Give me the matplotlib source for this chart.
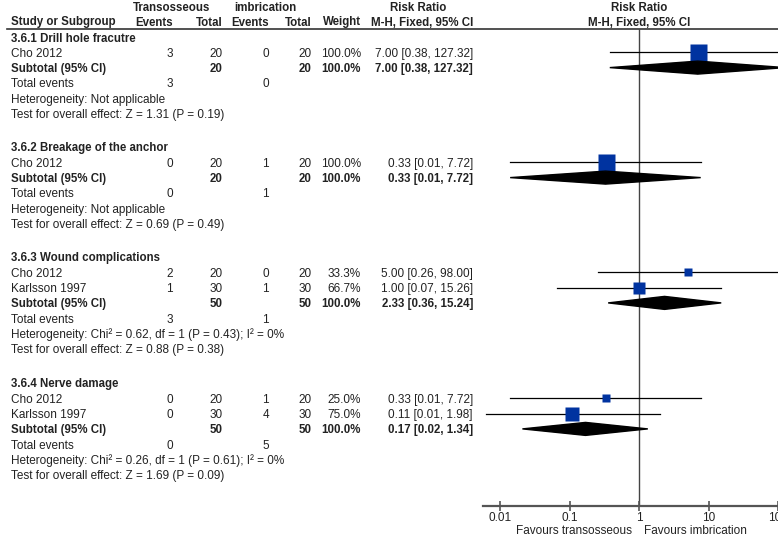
import matplotlib

matplotlib.use("Agg")
import matplotlib.pyplot as plt
from matplotlib.patches import Polygon

plt.rcParams["font.family"] = ["Liberation Sans", "DejaVu Sans"]

# data
group_names = [
    "3.6.1 Drill hole fracutre",
    "3.6.2 Breakage of the anchor",
    "3.6.3 Wound complications",
    "3.6.4 Nerve damage",
]
study_group = [0, 1, 2, 2, 3, 3]
study_names = ["Cho 2012", "Cho 2012", "Cho 2012", "Karlsson 1997", "Cho 2012", "Karlsson 1997"]
trans_events = [3, 0, 2, 1, 0, 0]
trans_total = [20, 20, 20, 30, 20, 30]
imb_events = [0, 1, 0, 1, 1, 4]
imb_total = [20, 20, 20, 30, 20, 30]
weights = [100.0, 100.0, 33.3, 66.7, 25.0, 75.0]
rr = [7.00, 0.33, 5.00, 1.00, 0.33, 0.11]
rr_lo = [0.38, 0.014, 0.26, 0.066, 0.014, 0.0063]
rr_hi = [127.32, 7.72, 98.00, 15.26, 7.72, 1.98]

sub_rr = [7.00, 0.33, 2.33, 0.17]
sub_lo = [0.38, 0.014, 0.36, 0.021]
sub_hi = [127.32, 7.72, 15.24, 1.34]
heterogeneity = [
    "Not applicable",
    "Not applicable",
    "Chi\u00b2 = 0.62, df = 1 (P = 0.43); I\u00b2 = 0%",
    "Chi\u00b2 = 0.26, df = 1 (P = 0.61); I\u00b2 = 0%",
]
overall_effect = [
    "Z = 1.31 (P = 0.19)",
    "Z = 0.69 (P = 0.49)",
    "Z = 0.88 (P = 0.38)",
    "Z = 1.69 (P = 0.09)",
]
axis_ticks = [0.01, 0.1, 1, 10, 100]
axis_labels = ["0.01", "0.1", "1", "10", "100"]
left_label = "Favours transosseous"
right_label = "Favours imbrication"

# layout in pixels
W, H = 778, 539
group_top = [37, 147, 257, 383]
step = 15.3
txt_dy = 1.5
fs = 8.5
fs_bold = 8.3
txt_color = "#222222"
sq_color = "#0033a0"
x_name = 11
x_ev1, x_tot1, x_ev2, x_tot2, x_wt, x_rr = 173, 223, 269, 312, 361, 473
fx_left, fx_right, fx_top, fx_bottom = 483, 778, 28.5, 506
# log10 value at left / right edge of forest axes (decade = 69.5 px, 1 at 639)
dec = 69.5
lg_left = (fx_left - 639) / dec
lg_right = (fx_right - 639) / dec

fig = plt.figure(figsize=(W / 100, H / 100), dpi=100)
ax = fig.add_axes([0, 0, 1, 1])
ax.set_xlim(0, W)
ax.set_ylim(H, 0)
ax.axis("off")

fx = fig.add_axes(
    [fx_left / W, 1 - fx_bottom / H, (fx_right - fx_left) / W, (fx_bottom - fx_top) / H]
)
fx.set_xscale("log")
fx.set_xlim(10**lg_left, 10**lg_right)
fx.set_ylim(fx_bottom, fx_top)
fx.patch.set_alpha(0)
for s in ["top", "left", "right"]:
    fx.spines[s].set_visible(False)
fx.spines["bottom"].set_color("#555555")
fx.spines["bottom"].set_linewidth(1.6)
fx.set_yticks([])
fx.set_xticks(axis_ticks)
fx.set_xticklabels(axis_labels)
fx.minorticks_off()
fx.tick_params(axis="x", direction="inout", length=7, width=1.2, color="#555555",
               labelsize=fs, labelcolor=txt_color, pad=1.0)
fx.axvline(1, color="#444444", lw=1.0, zorder=1)


def put(x, y, s, ha="left", bold=False):
    ax.text(x, y, s, ha=ha, va="center", fontsize=fs_bold if bold else fs,
            color=txt_color, fontweight="bold" if bold else "normal")


# header
put(172, 8, "Transosseous", ha="center", bold=True)
put(265, 8, "imbrication", ha="center", bold=True)
put(418, 8, "Risk Ratio", ha="center", bold=True)
put(639, 8, "Risk Ratio", ha="center", bold=True)
hy = 22.5
put(x_name, hy, "Study or Subgroup", bold=True)
put(x_ev1, hy, "Events", ha="right", bold=True)
put(x_tot1, hy, "Total", ha="right", bold=True)
put(x_ev2, hy, "Events", ha="right", bold=True)
put(x_tot2, hy, "Total", ha="right", bold=True)
put(x_wt, hy, "Weight", ha="right", bold=True)
put(x_rr, hy, "M-H, Fixed, 95% CI", ha="right", bold=True)
put(639, hy, "M-H, Fixed, 95% CI", ha="center", bold=True)
ax.plot([7, W], [28.5, 28.5], color="#333333", lw=1.2)

for g, gname in enumerate(group_names):
    y = group_top[g]
    put(x_name, y + txt_dy, gname, bold=True)
    idx = [i for i, sg in enumerate(study_group) if sg == g]
    for i in idx:
        y += step
        ty = y + txt_dy
        put(x_name, ty, study_names[i])
        put(x_ev1, ty, str(trans_events[i]), ha="right")
        put(x_tot1, ty, str(trans_total[i]), ha="right")
        put(x_ev2, ty, str(imb_events[i]), ha="right")
        put(x_tot2, ty, str(imb_total[i]), ha="right")
        put(x_wt, ty, f"{weights[i]:.1f}%", ha="right")
        put(x_rr, ty, f"{rr[i]:.2f} [{rr_lo[i]:.2f}, {rr_hi[i]:.2f}]", ha="right")
        fx.plot([rr_lo[i], rr_hi[i]], [y, y], color="black", lw=0.9, zorder=2)
        side = 4 + 13 * weights[i] / 100
        fx.plot([rr[i]], [y], marker="s", ms=side * 0.72, mec="none",
                color=sq_color, zorder=3)
    # subtotal
    y += step
    ty = y + txt_dy
    put(x_name, ty, "Subtotal (95% CI)", bold=True)
    put(x_tot1, ty, str(sum(trans_total[i] for i in idx)), ha="right", bold=True)
    put(x_tot2, ty, str(sum(imb_total[i] for i in idx)), ha="right", bold=True)
    put(x_wt, ty, "100.0%", ha="right", bold=True)
    put(x_rr, ty, f"{sub_rr[g]:.2f} [{sub_lo[g]:.2f}, {sub_hi[g]:.2f}]", ha="right", bold=True)
    fx.add_patch(Polygon(
        [(sub_lo[g], y), (sub_rr[g], y - 6.5), (sub_hi[g], y), (sub_rr[g], y + 6.5)],
        closed=True, color="black", zorder=4))
    # total events
    y += step
    ty = y + txt_dy
    put(x_name, ty, "Total events")
    put(x_ev1, ty, str(sum(trans_events[i] for i in idx)), ha="right")
    put(x_ev2, ty, str(sum(imb_events[i] for i in idx)), ha="right")
    y += step
    put(x_name, y + txt_dy, "Heterogeneity: " + heterogeneity[g])
    y += step
    put(x_name, y + txt_dy, "Test for overall effect: " + overall_effect[g])

put(632, 531, left_label, ha="right")
put(644, 531, right_label)

fig.savefig("out.png", dpi=100)
